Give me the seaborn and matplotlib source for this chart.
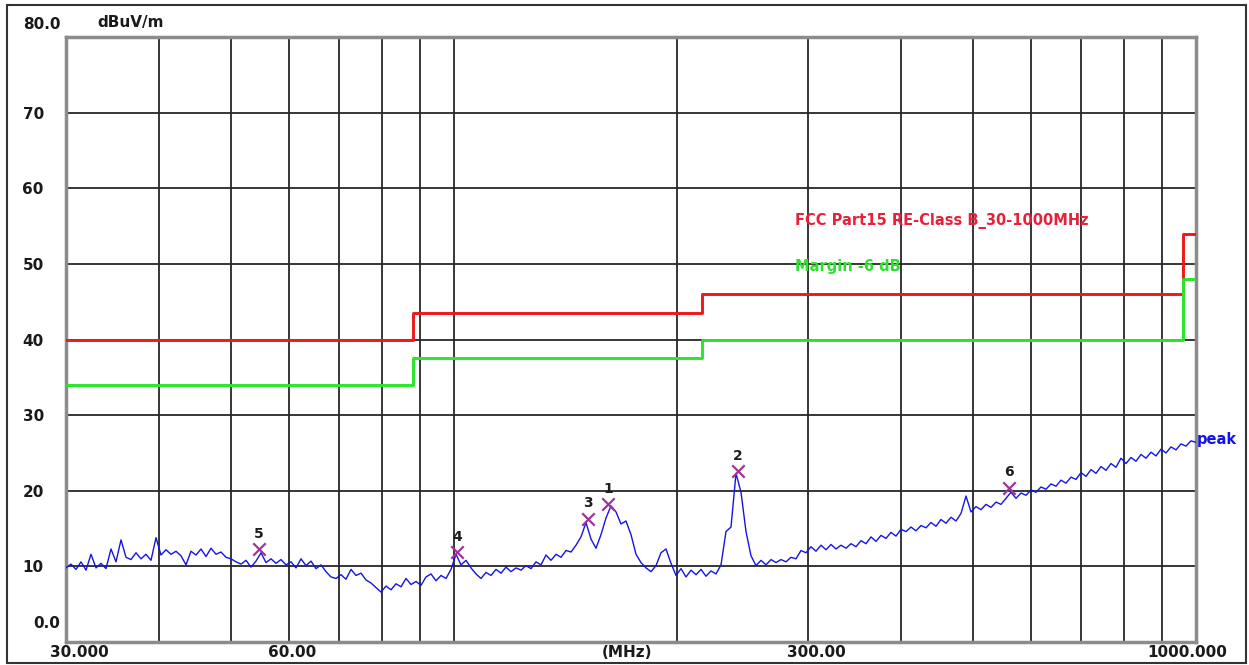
import numpy as np
import seaborn as sns
import matplotlib.pyplot as plt
from matplotlib.patches import Rectangle
from matplotlib.ticker import NullLocator

PEAK_LEVELS = [
    9.8, 10.3, 9.6, 10.6, 9.5, 11.6, 9.8, 10.4, 9.7, 12.3, 10.6, 13.5, 11.2, 10.9, 11.8, 11.0, 11.6, 10.8, 13.8,
    11.5, 12.2, 11.6, 12.0, 11.4, 10.2, 12.0, 11.5, 12.3, 11.3, 12.4, 11.6, 11.9, 11.2,
    11.0, 10.6, 10.3, 10.8, 9.9, 10.7, 11.8, 10.5, 11.0, 10.4, 10.9, 10.2,
    10.6, 9.8, 11.0, 10.1, 10.7, 9.7, 10.2, 9.3, 8.6,
    8.4, 8.9, 8.3, 9.6, 8.8, 9.1, 8.2, 7.8, 7.2, 6.6,
    7.4, 6.9, 7.7, 7.3, 8.4, 7.6, 8.0, 7.5, 8.6, 9.0, 8.1, 8.8, 8.4,
    9.6, 11.6, 10.2, 10.8,
    9.8, 9.0, 8.4, 9.2, 8.8, 9.6, 9.1, 9.9, 9.3, 9.8, 9.5, 10.1, 9.7, 10.6, 10.2, 11.5,
    10.8, 11.6, 11.2, 12.1, 11.9, 12.8, 13.9, 15.8, 13.6, 12.4, 14.2, 16.4, 18.0,
    17.2, 15.6, 16.0, 14.2, 11.6, 10.5, 9.8, 9.3, 10.1, 11.8, 12.3,
    10.4, 8.8, 9.7, 8.6, 9.5, 8.9, 9.6, 8.7, 9.4, 9.0, 10.2,
    14.6, 15.2, 22.3, 19.8, 14.6, 11.4, 10.1,
    10.8, 10.2, 10.9, 10.5, 10.9, 10.6, 11.2, 11.0, 12.1,
    11.8, 12.6, 12.0, 12.8, 12.2, 12.9, 12.3, 12.8, 12.4, 13.0, 12.6,
    13.4, 13.0, 13.9, 13.3, 14.1, 13.7, 14.5, 14.0, 14.9, 14.6, 15.2, 14.7, 15.4, 15.1, 15.8, 15.3,
    16.2, 15.7, 16.5, 16.0, 17.0, 19.3,
    17.2, 17.9, 17.5, 18.2, 17.8, 18.5, 18.2, 19.0, 19.8, 19.0, 19.7, 19.4, 20.1, 19.8, 20.5, 20.2,
    20.9, 20.6, 21.4,
    21.0, 21.8, 21.5, 22.4, 21.9, 22.8, 22.3, 23.2, 22.7, 23.6, 23.1, 24.3, 23.6, 24.4, 23.9, 24.8,
    24.3, 25.1, 24.6, 25.5, 25.0, 25.8, 25.4, 26.2, 25.9, 26.6, 26.4,
]
SWEEP_START, SWEEP_STOP = 30, 1000

# FCC Part15 Class B limit and the -6 dB margin line
LIMIT_EDGES = [30, 88, 216, 960, 1000]
LIMIT_LEVELS = [40, 43.5, 46, 54, 54]
MARGIN_DB = 6

# Marked peaks
MARKER_IDS = ['1', '2', '3', '4', '5', '6']
MARKER_FREQ = [161.3, 241.5, 151.6, 100.9, 54.6, 559.8]
MARKER_LEVEL = [18.2, 22.6, 16.3, 11.9, 12.3, 20.4]

GRID_FREQ = [40, 50, 60, 70, 80, 90, 100, 200, 300, 400, 500, 600, 700, 800, 900]
Y_TICKS = [10, 20, 30, 40, 50, 60, 70]
X_LABELS = [(31.3, '30.000'), (60.5, '60.00'), (171, '(MHz)'), (308, '300.00'), (972, '1000.000')]

RED = '#f01818'
GREEN = '#28e628'
BLUE = '#1414e6'

sns.set_theme(style="white")
plt.rcParams['font.family'] = ['DejaVu Sans']

W, H = 1249, 665
fig = plt.figure(figsize=(W / 100, H / 100), dpi=100, facecolor='white')
ax = fig.add_axes([66 / W, 1 - 642 / H, 1130 / W, 605 / H])

freqs = np.geomspace(SWEEP_START, SWEEP_STOP, len(PEAK_LEVELS))
margin = [v - MARGIN_DB for v in LIMIT_LEVELS]

ax.set_xscale('log')
ax.set_xlim(30, 1000)
ax.set_ylim(0, 80)

# grid
ax.set_xticks(GRID_FREQ)
ax.xaxis.set_minor_locator(NullLocator())
ax.set_xticklabels([])
ax.set_yticks(Y_TICKS)
ax.set_yticklabels([str(t) for t in Y_TICKS], fontsize=11, fontweight='bold', color='#1a1a1a')
ax.tick_params(axis='both', length=0)
ax.tick_params(axis='y', pad=16)
ax.grid(True, color='#262626', lw=1.3)
ax.set_axisbelow(True)
for s in ax.spines.values():
    s.set_color('#8c8c8c')
    s.set_linewidth(2.5)

# limit lines
ax.step(LIMIT_EDGES, LIMIT_LEVELS, where='post', color=RED, lw=2.1, zorder=3)
ax.step(LIMIT_EDGES, margin, where='post', color=GREEN, lw=2.1, zorder=3)

# trace
sns.lineplot(x=freqs, y=PEAK_LEVELS, ax=ax, color=BLUE, lw=1.0, sort=False, estimator=None, zorder=4)

# markers
sns.scatterplot(x=MARKER_FREQ, y=MARKER_LEVEL, ax=ax, marker='x', s=80, color='#a0349c',
                linewidth=1.6, zorder=5, legend=False)
for lab, f, v in zip(MARKER_IDS, MARKER_FREQ, MARKER_LEVEL):
    ax.annotate(lab, (f, v), xytext=(0, 11), textcoords='offset points', ha='center', va='center',
                fontsize=10, fontweight='bold', color='#1e1e1e', zorder=6)

# text labels
ax.text(288, 55.7, 'FCC Part15 RE-Class B_30-1000MHz', color='#e8203a', fontsize=10.5,
        fontweight='bold', ha='left', va='center')
ax.text(288, 49.7, 'Margin -6 dB', color='#30e030', fontsize=10.5, fontweight='bold',
        ha='left', va='center')
ax.text(1003, 26.8, 'peak', color=BLUE, fontsize=10.5, fontweight='bold', ha='left',
        va='center', clip_on=False)

ax.text(-0.005, 81.6, '80.0', transform=ax.get_yaxis_transform(), ha='right', va='center',
        fontsize=11, fontweight='bold', color='#1a1a1a')
ax.text(-0.005, 2.5, '0.0', transform=ax.get_yaxis_transform(), ha='right', va='center',
        fontsize=11, fontweight='bold', color='#1a1a1a')
fig.text(97 / W, 1 - 22 / H, 'dBuV/m', ha='left', va='center', fontsize=11, fontweight='bold',
         color='#1a1a1a')

for f, lab in X_LABELS:
    ax.text(f, -0.017, lab, transform=ax.get_xaxis_transform(), ha='center', va='center',
            fontsize=11, fontweight='bold', color='#1a1a1a')

# outer frame
fig.patches.append(Rectangle((7 / W, 1 - 663 / H), 1239 / W, 658 / H, transform=fig.transFigure,
                             fill=False, edgecolor='#333333', lw=1.5))

fig.savefig('out.png', dpi=100, facecolor='white')
